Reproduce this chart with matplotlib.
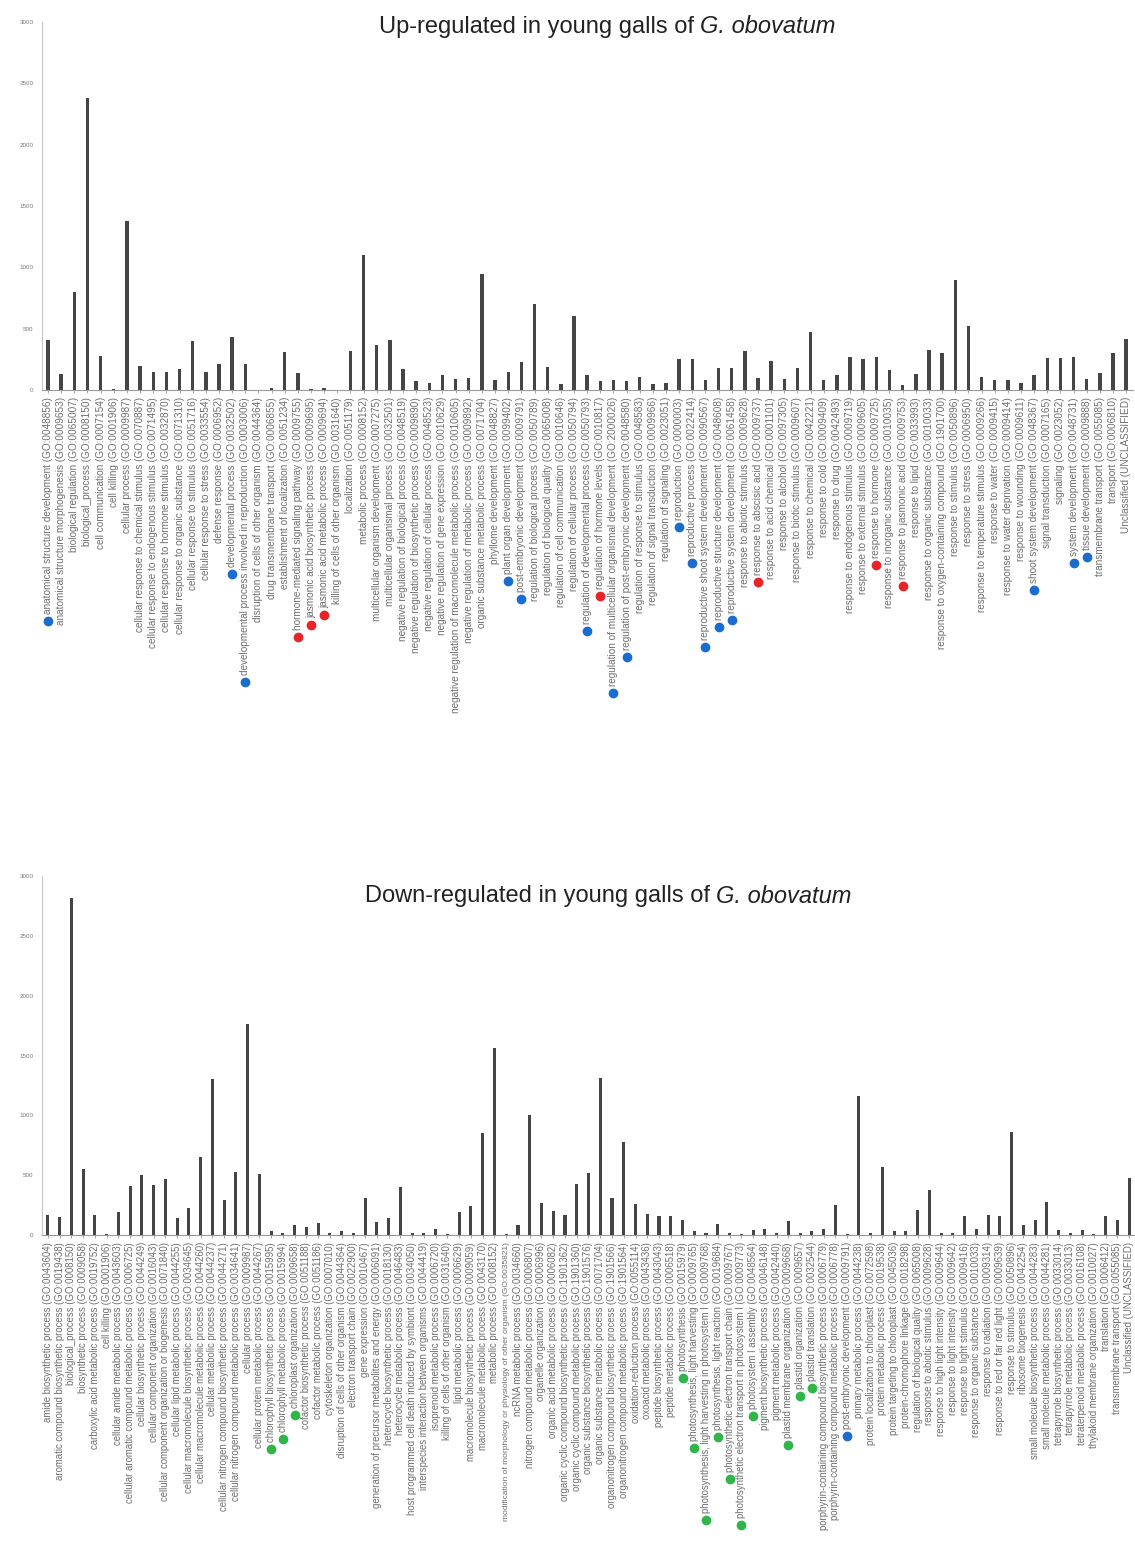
import numpy as np
import matplotlib
matplotlib.use("Agg")
import matplotlib.pyplot as plt
from matplotlib.lines import Line2D

plt.rcParams["font.family"] = ["Liberation Sans", "DejaVu Sans"]

# GO terms enriched among up-regulated genes
up_terms = [
    "anatomical structure development (GO:0048856)",
    "anatomical structure morphogenesis (GO:0009653)",
    "biological regulation (GO:0065007)",
    "biological_process (GO:0008150)",
    "cell communication (GO:0007154)",
    "cell killing (GO:0001906)",
    "cellular process (GO:0009987)",
    "cellular response to chemical stimulus (GO:0070887)",
    "cellular response to endogenous stimulus (GO:0071495)",
    "cellular response to hormone stimulus (GO:0032870)",
    "cellular response to organic substance (GO:0071310)",
    "cellular response to stimulus (GO:0051716)",
    "cellular response to stress (GO:0033554)",
    "defense response (GO:0006952)",
    "developmental process (GO:0032502)",
    "developmental process involved in reproduction (GO:0003006)",
    "disruption of cells of other organism (GO:0044364)",
    "drug transmembrane transport (GO:0006855)",
    "establishment of localization (GO:0051234)",
    "hormone-mediated signaling pathway (GO:0009755)",
    "jasmonic acid biosynthetic process (GO:0009695)",
    "jasmonic acid metabolic process (GO:0009694)",
    "killing of cells of other organism (GO:0031640)",
    "localization (GO:0051179)",
    "metabolic process (GO:0008152)",
    "multicellular organism development (GO:0007275)",
    "multicellular organismal process (GO:0032501)",
    "negative regulation of biological process (GO:0048519)",
    "negative regulation of biosynthetic process (GO:0009890)",
    "negative regulation of cellular process (GO:0048523)",
    "negative regulation of gene expression (GO:0010629)",
    "negative regulation of macromolecule metabolic process (GO:0010605)",
    "negative regulation of metabolic process (GO:0009892)",
    "organic substance metabolic process (GO:0071704)",
    "phyllome development (GO:0048827)",
    "plant organ development (GO:0099402)",
    "post-embryonic development (GO:0009791)",
    "regulation of biological process (GO:0050789)",
    "regulation of biological quality (GO:0065008)",
    "regulation of cell communication (GO:0010646)",
    "regulation of cellular process (GO:0050794)",
    "regulation of developmental process (GO:0050793)",
    "regulation of hormone levels (GO:0010817)",
    "regulation of multicellular organismal development (GO:2000026)",
    "regulation of post-embryonic development (GO:0048580)",
    "regulation of response to stimulus (GO:0048583)",
    "regulation of signal transduction (GO:0009966)",
    "regulation of signaling (GO:0023051)",
    "reproduction (GO:0000003)",
    "reproductive process (GO:0022414)",
    "reproductive shoot system development (GO:0090567)",
    "reproductive structure development (GO:0048608)",
    "reproductive system development (GO:0061458)",
    "response to abiotic stimulus (GO:0009628)",
    "response to abscisic acid (GO:0009737)",
    "response to acid chemical (GO:0001101)",
    "response to alcohol (GO:0097305)",
    "response to biotic stimulus (GO:0009607)",
    "response to chemical (GO:0042221)",
    "response to cold (GO:0009409)",
    "response to drug (GO:0042493)",
    "response to endogenous stimulus (GO:0009719)",
    "response to external stimulus (GO:0009605)",
    "response to hormone (GO:0009725)",
    "response to inorganic substance (GO:0010035)",
    "response to jasmonic acid (GO:0009753)",
    "response to lipid (GO:0033993)",
    "response to organic substance (GO:0010033)",
    "response to oxygen-containing compound (GO:1901700)",
    "response to stimulus (GO:0050896)",
    "response to stress (GO:0006950)",
    "response to temperature stimulus (GO:0009266)",
    "response to water (GO:0009415)",
    "response to water deprivation (GO:0009414)",
    "response to wounding (GO:0009611)",
    "shoot system development (GO:0048367)",
    "signal transduction (GO:0007165)",
    "signaling (GO:0023052)",
    "system development (GO:0048731)",
    "tissue development (GO:0009888)",
    "transmembrane transport (GO:0055085)",
    "transport (GO:0006810)",
    "Unclassified (UNCLASSIFIED)",
]
up_counts = [
    410, 130, 800, 2380, 280, 5, 1380, 200, 150, 150,
    170, 400, 150, 210, 430, 210, 3, 20, 310, 140,
    10, 15, 3, 320, 1100, 370, 410, 170, 70, 60,
    120, 90, 100, 950, 80, 150, 230, 700, 190, 50,
    600, 120, 70, 80, 70, 110, 50, 60, 250, 250,
    80, 180, 180, 320, 100, 240, 90, 180, 470, 80,
    120, 270, 250, 270, 160, 40, 130, 330, 300, 900,
    520, 110, 80, 80, 60, 120, 260, 260, 270, 90,
    140, 300, 420,
]
# development-related terms (blue) and hormone-related terms (red)
up_blue = [0, 14, 15, 35, 36, 41, 43, 44, 48, 49, 50, 51, 52, 75, 78, 79]
up_red = [19, 20, 21, 42, 54, 63, 65]

# GO terms enriched among down-regulated genes
down_terms = [
    "amide biosynthetic process (GO:0043604)",
    "aromatic compound biosynthetic process (GO:0019438)",
    "biological_process (GO:0008150)",
    "biosynthetic process (GO:0009058)",
    "carboxylic acid metabolic process (GO:0019752)",
    "cell killing (GO:0001906)",
    "cellular amide metabolic process (GO:0043603)",
    "cellular aromatic compound metabolic process (GO:0006725)",
    "cellular biosynthetic process (GO:0044249)",
    "cellular component organization (GO:0016043)",
    "cellular component organization or biogenesis (GO:0071840)",
    "cellular lipid metabolic process (GO:0044255)",
    "cellular macromolecule biosynthetic process (GO:0034645)",
    "cellular macromolecule metabolic process (GO:0044260)",
    "cellular metabolic process (GO:0044237)",
    "cellular nitrogen compound biosynthetic process (GO:0044271)",
    "cellular nitrogen compound metabolic process (GO:0034641)",
    "cellular process (GO:0009987)",
    "cellular protein metabolic process (GO:0044267)",
    "chlorophyll biosynthetic process (GO:0015995)",
    "chlorophyll metabolic process (GO:0015994)",
    "chloroplast organization (GO:0009658)",
    "cofactor biosynthetic process (GO:0051188)",
    "cofactor metabolic process (GO:0051186)",
    "cytoskeleton organization (GO:0007010)",
    "disruption of cells of other organism (GO:0044364)",
    "electron transport chain (GO:0022900)",
    "gene expression (GO:0010467)",
    "generation of precursor metabolites and energy (GO:0006091)",
    "heterocycle biosynthetic process (GO:0018130)",
    "heterocycle metabolic process (GO:0046483)",
    "host programmed cell death induced by symbiont (GO:0034050)",
    "interspecies interaction between organisms (GO:0044419)",
    "isoprenoid metabolic process (GO:0006720)",
    "killing of cells of other organism (GO:0031640)",
    "lipid metabolic process (GO:0006629)",
    "macromolecule biosynthetic process (GO:0009059)",
    "macromolecule metabolic process (GO:0043170)",
    "metabolic process (GO:0008152)",
    "modification of morphology or physiology of other organism (GO:0035821)",
    "ncRNA metabolic process (GO:0034660)",
    "nitrogen compound metabolic process (GO:0006807)",
    "organelle organization (GO:0006996)",
    "organic acid metabolic process (GO:0006082)",
    "organic cyclic compound biosynthetic process (GO:1901362)",
    "organic cyclic compound metabolic process (GO:1901360)",
    "organic substance biosynthetic process (GO:1901576)",
    "organic substance metabolic process (GO:0071704)",
    "organonitrogen compound biosynthetic process (GO:1901566)",
    "organonitrogen compound metabolic process (GO:1901564)",
    "oxidation-reduction process (GO:0055114)",
    "oxoacid metabolic process (GO:0043436)",
    "peptide biosynthetic process (GO:0043043)",
    "peptide metabolic process (GO:0006518)",
    "photosynthesis (GO:0015979)",
    "photosynthesis, light harvesting (GO:0009765)",
    "photosynthesis, light harvesting in photosystem I (GO:0009768)",
    "photosynthesis, light reaction (GO:0019684)",
    "photosynthetic electron transport chain (GO:0009767)",
    "photosynthetic electron transport in photosystem I (GO:0009773)",
    "photosystem I assembly (GO:0048564)",
    "pigment biosynthetic process (GO:0046148)",
    "pigment metabolic process (GO:0042440)",
    "plastid membrane organization (GO:0009668)",
    "plastid organization (GO:0009657)",
    "plastid translation (GO:0032544)",
    "porphyrin-containing compound biosynthetic process (GO:0006779)",
    "porphyrin-containing compound metabolic process (GO:0006778)",
    "post-embryonic development (GO:0009791)",
    "primary metabolic process (GO:0044238)",
    "protein localization to chloroplast (GO:0072598)",
    "protein metabolic process (GO:0019538)",
    "protein targeting to chloroplast (GO:0045036)",
    "protein-chromophore linkage (GO:0018298)",
    "regulation of biological quality (GO:0065008)",
    "response to abiotic stimulus (GO:0009628)",
    "response to high light intensity (GO:0009644)",
    "response to light intensity (GO:0009642)",
    "response to light stimulus (GO:0009416)",
    "response to organic substance (GO:0010033)",
    "response to radiation (GO:0009314)",
    "response to red or far red light (GO:0009639)",
    "response to stimulus (GO:0050896)",
    "ribosome biogenesis (GO:0042254)",
    "small molecule biosynthetic process (GO:0044283)",
    "small molecule metabolic process (GO:0044281)",
    "tetrapyrrole biosynthetic process (GO:0033014)",
    "tetrapyrrole metabolic process (GO:0033013)",
    "tetraterpenoid metabolic process (GO:0016108)",
    "thylakoid membrane organization (GO:0010027)",
    "translation (GO:0006412)",
    "transmembrane transport (GO:0055085)",
    "Unclassified (UNCLASSIFIED)",
]
down_counts = [
    170, 150, 2820, 550, 170, 10, 190, 410, 500, 420,
    470, 140, 230, 650, 1300, 290, 530, 1760, 510, 30,
    20, 80, 70, 100, 20, 30, 20, 310, 110, 140,
    400, 20, 15, 50, 5, 190, 240, 850, 1560, 10,
    80, 1000, 270, 200, 170, 430, 520, 1310, 310, 780,
    260, 180, 160, 160, 130, 30, 20, 90, 20, 10,
    40, 50, 20, 120, 15, 30, 50, 250, 10, 1160,
    20, 570, 30, 30, 210, 380, 20, 15, 160, 50,
    170, 160, 860, 80, 130, 280, 40, 20, 40, 10,
    160, 130, 480,
]
# photosynthesis/chloroplast terms (green) and development (blue)
down_green = [19, 20, 21, 54, 55, 56, 57, 58, 59, 60, 63, 64, 65]
down_blue = [68]

BAR_COLOR = "#454545"
LABEL_COLOR = "#6e6e6e"
DOT_COLORS = {"blue": "#1a6ccf", "red": "#e8232a", "green": "#2fb54a"}

fig = plt.figure(figsize=(11.35, 15.51), dpi=100)


def draw_panel(rect, terms, counts, xlim, label_size):
    ax = fig.add_axes(rect)
    x = np.arange(len(terms))
    ax.bar(x, counts, width=0.26, color=BAR_COLOR)
    ax.set_xlim(*xlim)
    ax.set_ylim(0, 3000)
    ax.set_yticks(np.arange(0, 3001, 500))
    ax.set_xticks(x)
    ax.set_xticklabels(terms, rotation=90, fontsize=label_size, color=LABEL_COLOR)
    ax.tick_params(axis="x", length=2, width=0.6, color="#999999", pad=3)
    ax.tick_params(axis="y", labelsize=4.5, labelcolor="#777777", length=0, pad=6)
    for side in ("top", "right"):
        ax.spines[side].set_visible(False)
    ax.spines["left"].set_color("#c8c8c8")
    ax.spines["bottom"].set_color("#9a9a9a")
    ax.spines["left"].set_linewidth(0.8)
    ax.spines["bottom"].set_linewidth(0.8)
    return ax


ax_up = draw_panel([0.037, 0.7485, 0.961, 0.2373], up_terms, up_counts,
                   (-0.46, 82.5), 7.2)
ax_down = draw_panel([0.037, 0.2037, 0.963, 0.2315], down_terms, down_counts,
                     (-0.5, 92.5), 6.9)
# the longest term gets a smaller size so it stays on the page
ax_down.get_xticklabels()[39].set_fontsize(6.0)

fig.canvas.draw()
renderer = fig.canvas.get_renderer()
to_fig = fig.transFigure.inverted()


def panel_title(cx, cy, plain, species):
    # plain part upright, species name in italics, centred together
    t1 = fig.text(0, cy, plain, ha="left", va="center", fontsize=17, color="#222222")
    t2 = fig.text(0, cy, species, ha="left", va="center", fontsize=17,
                  color="#222222", style="italic")
    w1 = t1.get_window_extent(renderer).width
    w2 = t2.get_window_extent(renderer).width
    total = (w1 + w2) / fig.bbox.width
    x0 = cx - total / 2
    t1.set_x(x0)
    t2.set_x(x0 + w1 / fig.bbox.width)


panel_title(0.535, 0.9826, "Up-regulated in young galls of ", "G. obovatum")
panel_title(0.536, 0.4223, "Down-regulated in young galls of ", "G. obovatum")


# colored markers sit just past the start of each highlighted term label
def mark_terms(ax, idx, color):
    labels = ax.get_xticklabels()
    for i in idx:
        bb = labels[i].get_window_extent(renderer)
        fx, fy = to_fig.transform(((bb.x0 + bb.x1) / 2, bb.y0 - 7))
        fig.add_artist(Line2D([fx], [fy], marker="o", markersize=6,
                              color=DOT_COLORS[color], linestyle="none",
                              transform=fig.transFigure))


mark_terms(ax_up, up_blue, "blue")
mark_terms(ax_up, up_red, "red")
mark_terms(ax_down, down_green, "green")
mark_terms(ax_down, down_blue, "blue")

fig.savefig("out.png", dpi=100)
